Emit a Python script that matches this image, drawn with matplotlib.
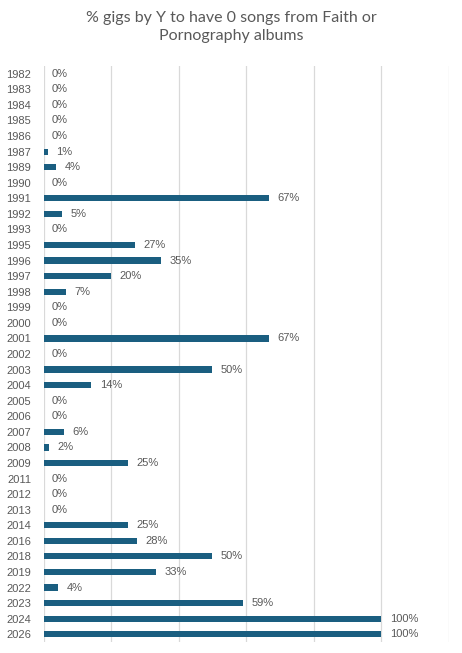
import matplotlib
matplotlib.use("Agg")
import matplotlib.pyplot as plt
import numpy as np

years = ["1982", "1983", "1984", "1985", "1986", "1987", "1989", "1990", "1991",
         "1992", "1993", "1995", "1996", "1997", "1998", "1999", "2000", "2001",
         "2002", "2003", "2004", "2005", "2006", "2007", "2008", "2009", "2011",
         "2012", "2013", "2014", "2016", "2018", "2019", "2022", "2023", "2024", "2026"]
pct = [0, 0, 0, 0, 0, 1.3, 3.7, 0, 66.7,
       5.4, 0, 27.1, 34.8, 20, 6.7, 0, 0, 66.7,
       0, 50, 14.1, 0, 0, 6.1, 1.6, 25, 0,
       0, 0, 25, 27.7, 50, 33.3, 4.3, 59.1, 100, 100]

bar_color = "#1a5e80"
grid_color = "#d9d9d9"
text_color = "#595959"

fig = plt.figure(figsize=(4.62, 6.53), dpi=100)
ax = fig.add_axes([43.5 / 462, 11 / 653, (449 - 43.5) / 462, (642 - 66) / 653])

y = np.arange(len(years))
ax.barh(y, pct, height=0.4, color=bar_color, zorder=3)
for yi, v in zip(y, pct):
    ax.text(v + 2.5, yi, f"{v:.0f}%", va="center", ha="left",
            fontsize=8, color=text_color, family="Liberation Sans")

ax.set_xlim(0, 120)
ax.set_ylim(len(years) - 0.5, -0.5)
ax.set_xticks(np.arange(0, 121, 20))
ax.set_xticklabels([])
ax.tick_params(axis="x", length=0)
ax.set_yticks(y)
ax.set_yticklabels(years, fontsize=8, color=text_color, family="Liberation Sans")
ax.tick_params(axis="y", length=0, pad=9)
ax.grid(axis="x", color=grid_color, linewidth=0.9, zorder=0)
for s in ax.spines.values():
    s.set_visible(False)

fig.text(0.5, 1 - 27 / 653, "% gigs by Y to have 0 songs from Faith or\nPornography albums",
         ha="center", va="center", fontsize=11.5, color=text_color,
         family="Lato", linespacing=1.35)

fig.savefig("out.png", dpi=100)
